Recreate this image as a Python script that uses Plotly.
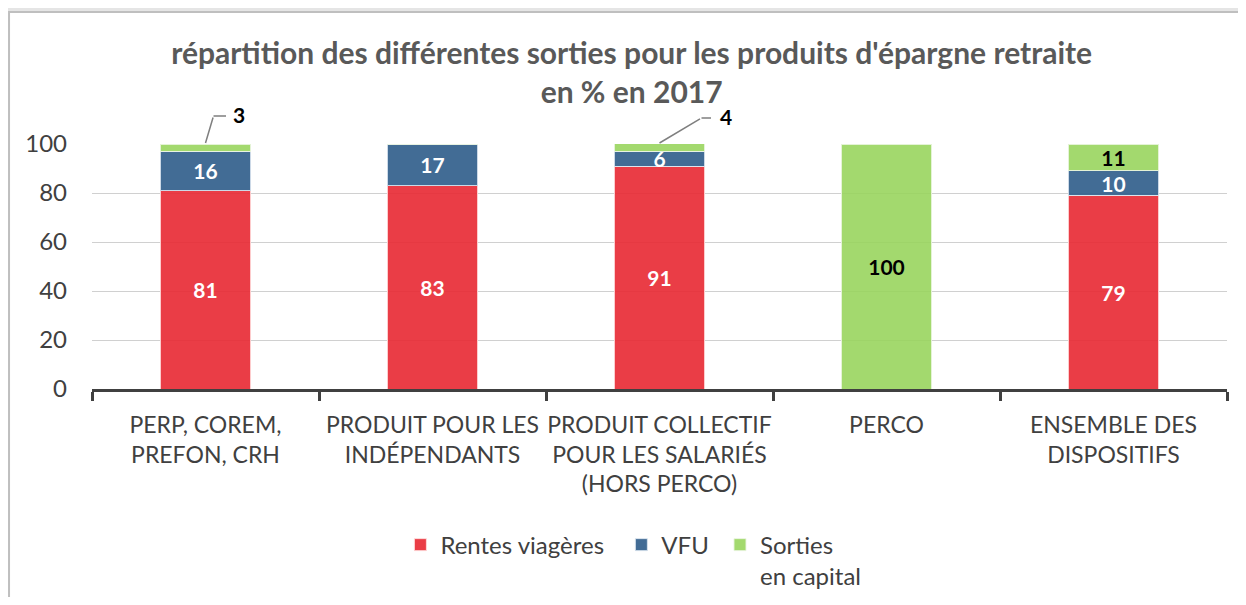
import plotly.graph_objects as go

categories = ["PERP, COREM,<br>PREFON, CRH", "PRODUIT POUR LES<br>INDÉPENDANTS",
              "PRODUIT COLLECTIF<br>POUR LES SALARIÉS<br>(HORS PERCO)", "PERCO",
              "ENSEMBLE DES<br>DISPOSITIFS"]
rentes = [81, 83, 91, 0, 79]
vfu = [16, 17, 6, 0, 10]
capital = [3, 0, 4, 100, 11]
yticks = [0, 20, 40, 60, 80, 100]
series_names = ["Rentes viagères", "VFU", "Sorties<br>en capital"]

FONT = "Lato"
DARK = "#404040"
NB = "\u00a0"

def lbl(vals, hide=()):
    return ["" if (v == 0 or i in hide) else str(v) for i, v in enumerate(vals)]

common = dict(textposition="inside", insidetextanchor="middle", textangle=0, constraintext="none")
fig = go.Figure()
fig.add_bar(x=categories, y=rentes, name=series_names[0] + NB * 2,
            marker=dict(color="rgba(232,40,50,0.9)", line=dict(color="rgba(255,220,220,0.9)", width=1)),
            text=lbl(rentes), textfont=dict(color="white", size=21, family=FONT, weight="bold"), **common)
fig.add_bar(x=categories, y=vfu, name=series_names[1] + NB,
            marker=dict(color="rgba(50,96,140,0.92)", line=dict(color="rgba(220,230,240,0.9)", width=1)),
            text=lbl(vfu), textfont=dict(color="white", size=21, family=FONT, weight="bold"), **common)
# small capital shares (< 5) are labelled outside with leader lines
small = [i for i, v in enumerate(capital) if 0 < v < 5]
fig.add_bar(x=categories, y=capital, name=series_names[2],
            marker=dict(color="rgba(150,212,90,0.88)", line=dict(color="rgba(235,245,225,0.9)", width=1)),
            text=lbl(capital, hide=small), textfont=dict(color="black", size=21, family=FONT, weight="bold"),
            **common)

# leader geometry (pixels): diagonal dx, dy, horizontal length, label offset
leader = {0: (8, 27, 14, 33), 2: (42, 25, 11, 66)}
for i in small:
    top = min(rentes[i] + vfu[i] + capital[i], 100)
    dx, dy, hl, lx = leader[i]
    lc = "#7f7f7f"
    fig.add_annotation(x=categories[i], y=top, text="", showarrow=True, arrowhead=0, arrowwidth=1.5,
                       arrowcolor=lc, ax=dx, ay=-dy, yshift=1)
    fig.add_annotation(x=categories[i], y=top, text="", showarrow=True, arrowhead=0, arrowwidth=1.5,
                       arrowcolor=lc, ax=hl, ay=0, xshift=dx, yshift=dy + 1)
    fig.add_annotation(x=categories[i], y=top, text=f"<b>{capital[i]}</b>", showarrow=False,
                       xshift=lx, yshift=dy + 3, font=dict(size=21, color="black", family=FONT))

# chart frame
fig.add_shape(type="rect", xref="paper", yref="paper", x0=-0.0731, x1=1.2, y0=-1.0, y1=1.5388,
              fillcolor="white", line=dict(color="#bfbfbf", width=2), layer="below")

fig.update_layout(
    width=1230, height=589,
    barmode="stack", bargap=0.6,
    paper_bgcolor="#e5e5e5", plot_bgcolor="rgba(0,0,0,0)",
    margin=dict(l=84, r=11, t=136, b=208, autoexpand=False),
    font=dict(family=FONT, color=DARK),
    title=dict(text="<b>répartition des différentes sorties pour les produits d'épargne retraite<br>en % en 2017</b>",
               x=0.507, xref="container", xanchor="center", y=0.905, yref="container", yanchor="top",
               font=dict(size=30, color="#595959", family=FONT)),
    legend=dict(orientation="h", x=0.477, xanchor="center", y=-0.545, yanchor="top", valign="top",
                font=dict(size=24, color=DARK, family=FONT), traceorder="normal", itemwidth=30,
                bgcolor="rgba(0,0,0,0)"),
)
fig.update_yaxes(range=[0, 100], tickvals=yticks, showgrid=True, gridcolor="#d0d0d0", gridwidth=1,
                 zeroline=False, showline=False, ticks="", tickfont=dict(size=24, color=DARK),
                 ticklabelstandoff=24, automargin=False)
fig.update_xaxes(showline=True, linecolor="#404040", linewidth=3, ticks="outside", tickson="boundaries",
                 ticklen=9, tickwidth=3, tickcolor="#404040", tickfont=dict(size=23, color=DARK),
                 tickangle=0, ticklabelstandoff=13, showgrid=False, automargin=False)

fig.write_html("out.html")
